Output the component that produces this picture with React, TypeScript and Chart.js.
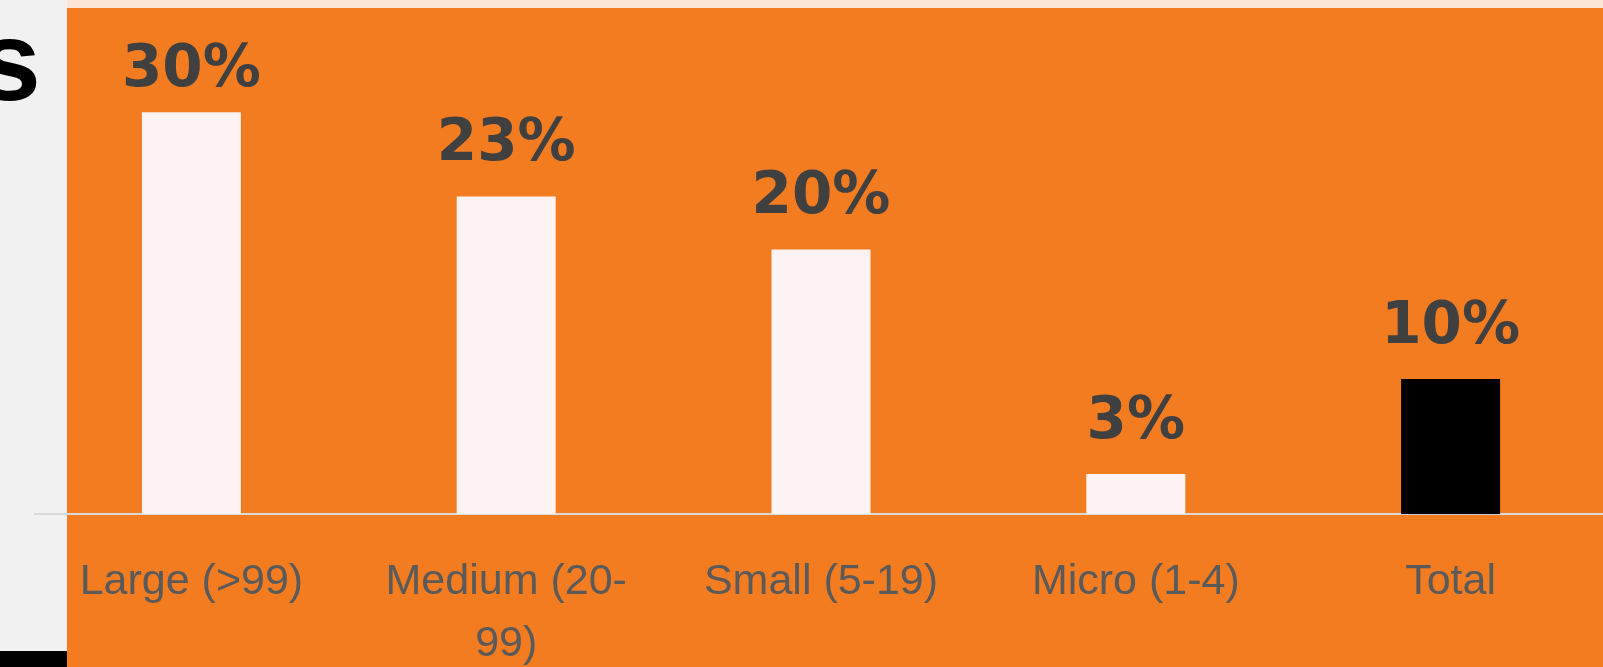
import React, { useEffect, useRef } from "react";
import { Chart, registerables } from "chart.js";

Chart.register(...registerables);

const categories: (string | string[])[] = [
  "Large (>99)",
  ["Medium (20-", "99)"],
  "Small (5-19)",
  "Micro (1-4)",
  "Total",
];
const shareValues = [29.6, 23.4, 19.5, 2.95, 9.95];
const barColors = ["#FDF3F3", "#FDF3F3", "#FDF3F3", "#FDF3F3", "#000000"];

const valueLabelPlugin = {
  id: "valueLabels",
  afterDatasetsDraw(chart: any) {
    const ctx = chart.ctx;
    const meta = chart.getDatasetMeta(0);
    ctx.save();
    ctx.font = "bold 58px 'DejaVu Sans'";
    ctx.fillStyle = "#404040";
    ctx.textAlign = "center";
    ctx.textBaseline = "alphabetic";
    meta.data.forEach((el: any, i: number) => {
      const v = chart.data.datasets[0].data[i] as number;
      const y = Math.max(el.y - 36, chart.chartArea.top + 47);
      ctx.fillText(Math.round(v) + "%", el.x, y);
    });
    ctx.restore();
  },
};

export default function App() {
  const canvasRef = useRef<HTMLCanvasElement | null>(null);

  useEffect(() => {
    if (!canvasRef.current) return;
    const chart = new Chart(canvasRef.current, {
      type: "bar",
      data: {
        labels: categories,
        datasets: [
          {
            data: shareValues,
            backgroundColor: barColors,
            borderWidth: 0,
            barPercentage: 0.3145,
            categoryPercentage: 1,
          },
        ],
      },
      options: {
        animation: false,
        responsive: true,
        maintainAspectRatio: false,
        layout: { padding: { top: 39, left: 0, right: 0, bottom: 0 } },
        plugins: {
          legend: { display: false },
          tooltip: { enabled: false },
          title: { display: false },
        },
        scales: {
          x: {
            grid: { display: false, drawTicks: false },
            border: { display: true, color: "#D9D9D9", width: 2 },
            ticks: {
              color: "#5A5A5A",
              font: { family: "'Liberation Sans'", size: 43, lineHeight: 1.44 },
              padding: 37,
              maxRotation: 0,
              minRotation: 0,
              autoSkip: false,
            },
          },
          y: {
            display: false,
            min: 0,
            max: 35,
          },
        },
      },
      plugins: [valueLabelPlugin],
    });
    return () => chart.destroy();
  }, []);

  return (
    <div
      style={{
        position: "fixed",
        left: 0,
        top: 0,
        width: 1603,
        height: 667,
        overflow: "hidden",
        background: "#F1F1F1",
      }}
    >
      <div style={{ position: "absolute", left: 67, top: 0, right: 0, height: 8, background: "#FDE5D6" }} />
      <div style={{ position: "absolute", left: 67, top: 8, right: 0, bottom: 0, background: "#F47C20" }} />
      <div style={{ position: "absolute", left: 0, top: 651, width: 67, height: 16, background: "#000000" }} />
      <div
        style={{
          position: "absolute",
          left: -22,
          top: 5,
          fontFamily: "'Liberation Sans', Arial, sans-serif",
          fontWeight: 700,
          fontSize: 113,
          lineHeight: "113px",
          color: "#000000",
          whiteSpace: "nowrap",
        }}
      >
        s
      </div>
      <div style={{ position: "absolute", left: 34, top: 0, width: 1574, height: 712 }}>
        <canvas ref={canvasRef} />
      </div>
    </div>
  );
}
